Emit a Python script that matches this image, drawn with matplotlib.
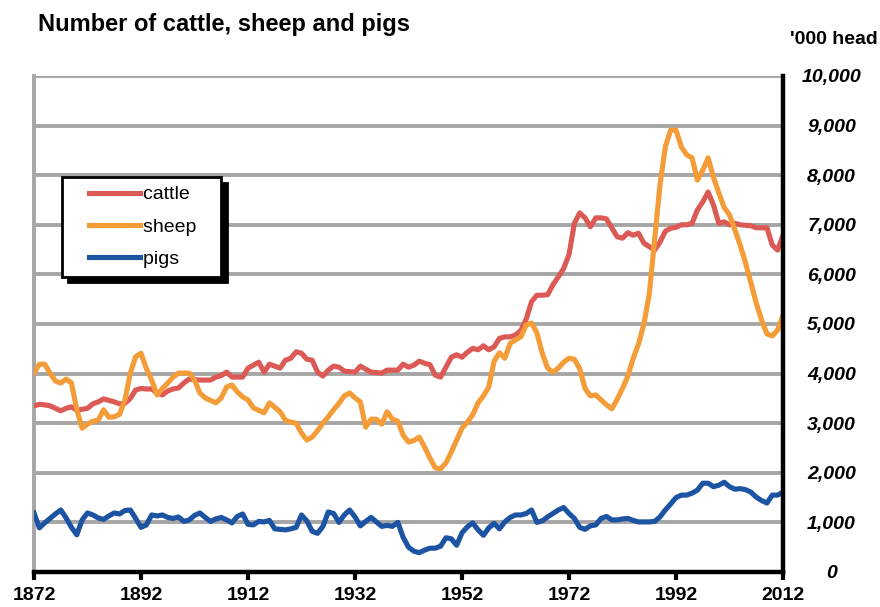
import matplotlib
matplotlib.use("Agg")
import matplotlib.pyplot as plt
from matplotlib.lines import Line2D
from matplotlib.legend_handler import HandlerLine2D

plt.rcParams['font.family'] = ['Liberation Sans', 'DejaVu Sans']

years = list(range(1872, 2013))

cattle = [3350, 3380, 3370, 3350, 3300, 3250, 3300, 3330, 3260, 3280,
          3300, 3390, 3430, 3490, 3460, 3430, 3390, 3400, 3500, 3670,
          3700, 3690, 3690, 3610, 3570, 3650, 3690, 3710, 3810, 3890,
          3880, 3870, 3870, 3870, 3930, 3960, 4030, 3930, 3930, 3930,
          4110, 4170, 4230, 4030, 4190, 4150, 4110, 4270, 4310, 4440,
          4410, 4290, 4270, 4030, 3950, 4070, 4150, 4130, 4050, 4040,
          4030, 4150, 4090, 4030, 4020, 4010, 4070, 4070, 4070, 4190,
          4130, 4170, 4250, 4210, 4180, 3970, 3930, 4130, 4330, 4380,
          4330, 4430, 4510, 4480, 4560, 4480, 4540, 4710, 4740, 4740,
          4780, 4870, 5100, 5450, 5580, 5580, 5590, 5790, 5950, 6120,
          6400, 7030, 7240, 7140, 6960, 7140, 7140, 7120, 6940, 6760,
          6730, 6840, 6790, 6830, 6630, 6560, 6490, 6650, 6870, 6930,
          6950, 7000, 7000, 7030, 7300, 7460, 7660, 7400, 7030, 7060,
          7000, 7030, 7000, 6990, 6980, 6940, 6940, 6940, 6590, 6490,
          6790]

sheep = [4010, 4190, 4190, 4010, 3850, 3810, 3890, 3810, 3270, 2900,
         2980, 3040, 3060, 3270, 3120, 3130, 3180, 3470, 4010, 4340,
         4410, 4100, 3870, 3570, 3700, 3810, 3930, 4010, 4010, 4010,
         3870, 3610, 3510, 3460, 3410, 3510, 3730, 3770, 3630, 3530,
         3470, 3310, 3260, 3210, 3410, 3320, 3230, 3060, 3020, 3000,
         2800, 2660, 2720, 2850, 3000, 3130, 3270, 3400, 3550, 3610,
         3510, 3430, 2920, 3080, 3080, 2980, 3230, 3080, 3040, 2760,
         2620, 2650, 2720, 2520, 2300, 2100, 2080, 2200, 2420, 2660,
         2900, 3020, 3170, 3410, 3550, 3730, 4250, 4420, 4310, 4610,
         4680, 4740, 4980, 5020, 4820, 4410, 4110, 4030, 4110, 4230,
         4310, 4290, 4100, 3700, 3550, 3570, 3470, 3370, 3290, 3480,
         3700, 3950, 4310, 4600, 5000, 5600, 6700, 7800, 8570, 8910,
         8910, 8570, 8410, 8350, 7900, 8100, 8350, 7960, 7640, 7350,
         7200, 6900, 6590, 6230, 5830, 5420, 5080, 4800, 4760, 4880,
         5180]

pigs = [1190, 890, 990, 1080, 1170, 1250, 1090, 900, 750, 1050,
        1190, 1150, 1090, 1060, 1130, 1190, 1170, 1240, 1250, 1080,
        900, 950, 1150, 1130, 1150, 1100, 1080, 1110, 1020, 1050,
        1140, 1190, 1100, 1020, 1070, 1100, 1050, 990, 1120, 1170,
        960, 950, 1020, 1010, 1040, 870, 860, 850, 870, 900,
        1150, 1030, 820, 780, 920, 1210, 1180, 1000, 1150, 1250,
        1110, 930, 1020, 1100, 1010, 920, 940, 920, 1000, 700,
        500, 420, 390, 440, 480, 480, 520, 690, 670, 540,
        790, 910, 990, 850, 740, 890, 980, 870, 1010, 1100,
        1150, 1150, 1180, 1250, 1000, 1030, 1110, 1180, 1250, 1300,
        1180, 1080, 900, 860, 930, 950, 1080, 1120, 1050, 1050,
        1070, 1080, 1040, 1010, 1010, 1010, 1020, 1110, 1250, 1370,
        1500, 1550, 1550, 1590, 1650, 1790, 1790, 1720, 1750, 1810,
        1720, 1670, 1680, 1660, 1610, 1510, 1440, 1390, 1550, 1550,
        1610]

xticks = [1872, 1892, 1912, 1932, 1952, 1972, 1992, 2012]
yticks = list(range(0, 10001, 1000))

fig = plt.figure(figsize=(8.8, 6.07), dpi=100)
ax = fig.add_axes([34 / 880, 1 - 572 / 607, 749 / 880, 496 / 607])

# trailing spaces give the wide right margin of the original legend box
ax.plot(years, cattle, color='#DB5A55', lw=3.7, label='cattle   ', solid_joinstyle='round', zorder=3)
ax.plot(years, sheep, color='#F39C38', lw=3.7, label='sheep   ', solid_joinstyle='round', zorder=4)
ax.plot(years, pigs, color='#1C53A3', lw=3.7, label='pigs   ', solid_joinstyle='round', zorder=3)

ax.set_xlim(1872, 2012)
ax.set_ylim(0, 10000)
ax.set_xticks(xticks)
ax.set_xticklabels([str(y) for y in xticks], fontsize=14, fontweight='bold')
ax.set_yticks(yticks)
ax.set_yticklabels(['0' if v == 0 else f'{v:,}' for v in yticks],
                   fontsize=14, fontweight='bold', style='italic')
ax.yaxis.tick_right()
for lab in ax.get_yticklabels():
    lab.set_horizontalalignment('center')
ax.tick_params(axis='y', length=0, pad=35)
ax.tick_params(axis='x', length=6, width=3, direction='out', pad=5)

ax.grid(axis='y', color='#A6A6A6', lw=2.8, zorder=1)
ax.set_axisbelow(True)

ax.spines['top'].set_visible(False)
ax.spines['left'].set_color('#A6A6A6')
ax.spines['left'].set_linewidth(2.8)
ax.spines['bottom'].set_linewidth(3.2)
ax.spines['right'].set_linewidth(3.2)
ax.spines['bottom'].set_zorder(5)
ax.spines['right'].set_zorder(5)

leg = ax.legend(loc='upper left', bbox_to_anchor=(28 / 749, (572 - 177) / 496),
                fontsize=14, frameon=True, fancybox=False,
                shadow={'color': 'black', 'alpha': 1, 'ox': 4, 'oy': -4},
                edgecolor='black', handlelength=3.55, handletextpad=0.15,
                borderpad=0.45, labelspacing=0.75, borderaxespad=0,
                handler_map={Line2D: HandlerLine2D(xpad=0.95)})
leg.get_frame().set_linewidth(2)
leg.get_frame().set_alpha(1)

fig.text(38 / 880, 1 - 25 / 607, 'Number of cattle, sheep and pigs',
         fontsize=17, fontweight='bold', va='center', ha='left')
fig.text(834 / 880, 1 - 40 / 607, "'000 head",
         fontsize=14, fontweight='bold', va='center', ha='center')

fig.savefig('out.png', dpi=100)
